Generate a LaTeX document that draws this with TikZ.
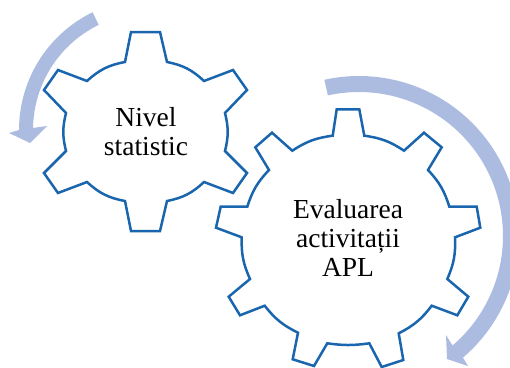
\documentclass[tikz,border=0pt]{standalone}
\usepackage{fontspec}
\setmainfont{Liberation Serif}
\definecolor{gearblue}{HTML}{1A66AE}
\definecolor{arrowblue}{HTML}{ACBBE0}
\tikzset{
  gear/.style={draw=gearblue,line width=2.5pt,line join=miter,fill=white},
  gearlabel/.style={align=center,text=black,font=\fontsize{27.5}{29}\selectfont},
}
\begin{document}
\begin{tikzpicture}[x=1pt,y=-1pt]
    \useasboundingbox (0,0) rectangle (510,367);
    \begin{scope}[arrowblue,smooth]
      \fill plot[domain=116:180,samples=30] ({150+131*cos(\x)},{130-131*sin(\x)})
        -- (9,133) -- (30,143) -- (47,126)
        -- plot[domain=179:116,samples=30] ({150+117*cos(\x)},{130-117*sin(\x)}) -- cycle;
      \fill plot[domain=102.5:-49.5,samples=60] ({359+160*cos(\x)},{236-160*sin(\x)})
        -- (468,366) -- (447,359) -- (446,335)
        -- plot[domain=-49.5:102.5,samples=60] ({359+144*cos(\x)},{236-144*sin(\x)}) -- cycle;
    \end{scope}
    % small gear
    \draw[gear] (131,32) -- (160,32) -- (167,62) to[bend left=16] (204,81)
      -- (233,70) -- (247,90) -- (225,113) to[bend left=14] (225,151)
      -- (247,173) -- (233,193) -- (204,182) to[bend left=16] (167,201)
      -- (160,231) -- (131,231) -- (125,201) to[bend left=16] (87,182)
      -- (58,193) -- (44,173) -- (66,151) to[bend left=14] (66,113)
      -- (44,90) -- (58,70) -- (87,81) to[bend left=16] (125,62) -- cycle;
    % big gear
    \draw[gear] (336.7,109.3) -- (359.3,109.3) -- (364.3,135.7) to[bend left=13] (404,150.7)
      -- (424,132.7) -- (441.7,147.3) -- (428,170) to[bend left=13] (449.3,206.7)
      -- (476.7,206.7) -- (480.3,227.7) -- (455,237.3) to[bend left=13] (447.3,279)
      -- (468.3,296.7) -- (457.3,315.3) -- (431.7,305.7) to[bend left=13] (398.7,333.3)
      -- (403.3,360) -- (381.7,367) -- (369.3,343.3) to[bend left=8] (327.3,343.3)
      -- (314,366) -- (292.7,359.3) -- (298,332.7) to[bend left=13] (264.7,305.7)
      -- (240,315.3) -- (228.7,296.7) -- (250,279) to[bend left=13] (241.7,237.3)
      -- (216,227.7) -- (220.7,206.7) -- (247.3,206.7) to[bend left=13] (269,170)
      -- (255.3,147.3) -- (272,132.7) -- (292.3,150.7) to[bend left=13] (332.7,135.7) -- cycle;
    \node[gearlabel] (nivel) at (146,132) {Nivel\\statistic};
    \node[gearlabel] (evaluarea) at (348,238) {Evaluarea\\activitații\\APL};
  \end{tikzpicture}
\end{document}
